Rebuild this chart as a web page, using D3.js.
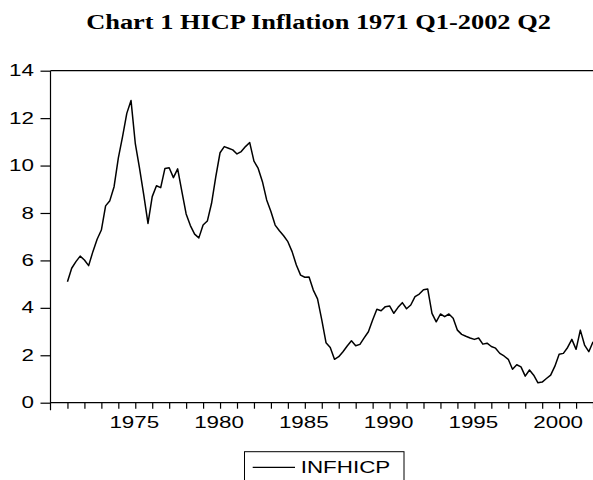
<!DOCTYPE html>
<html>
<head>
<meta charset="utf-8">
<script src="https://cdn.jsdelivr.net/npm/d3@7"></script>
<style>
  html, body { margin: 0; padding: 0; background: #fff; }
  svg { display: block; }
  .tick text { font-family: "Liberation Sans", Arial, sans-serif; font-size: 16px; fill: #000; }
</style>
</head>
<body>
<svg id="chart" width="593" height="480"></svg>
<script>
// quarterly HICP inflation, starting 1971 Q1
var startYear = 1971;
var infhicp = [
  5.10, 5.67, 5.95, 6.18, 6.02, 5.78, 6.37, 6.89, 7.28, 8.30,
  8.52, 9.11, 10.31, 11.22, 12.20, 12.74, 10.94, 9.89, 8.76, 7.56,
  8.69, 9.15, 9.07, 9.88, 9.91, 9.49, 9.86, 8.90, 7.96, 7.47,
  7.11, 6.95, 7.49, 7.66, 8.41, 9.53, 10.54, 10.80, 10.73, 10.66,
  10.49, 10.59, 10.80, 10.97, 10.19, 9.88, 9.32, 8.55, 8.06, 7.49,
  7.25, 7.04, 6.79, 6.37, 5.81, 5.38, 5.29, 5.30, 4.75, 4.38,
  3.49, 2.53, 2.33, 1.83, 1.94, 2.15, 2.39, 2.61, 2.40, 2.46,
  2.73, 2.99, 3.49, 3.94, 3.88, 4.05, 4.08, 3.77, 4.02, 4.22,
  3.96, 4.12, 4.47, 4.58, 4.76, 4.79, 3.77, 3.41, 3.74, 3.63,
  3.74, 3.56, 3.06, 2.88, 2.80, 2.73, 2.67, 2.73, 2.47, 2.51,
  2.37, 2.30, 2.08, 1.97, 1.83, 1.41, 1.60, 1.51, 1.12, 1.38,
  1.16, 0.84, 0.87, 1.02, 1.16, 1.54, 2.04, 2.08, 2.33, 2.67,
  2.25, 3.06, 2.43, 2.15, 2.57
];
var yTicks = [0, 2, 4, 6, 8, 10, 12, 14];
var yearTicks = d3.range(1971, 2004);        // one tick per year
var yearLabels = [1975, 1980, 1985, 1990, 1995, 2000];
var titleText = "Chart 1 HICP Inflation 1971 Q1-2002 Q2";
var seriesName = "INFHICP";

var svg = d3.select("#chart");
var stretch = 1.4; // the picture's text is stretched sideways

// plot box (right side runs off the picture)
var plotL = 50.5, plotT = 70.7, plotB = 402.7, plotR = 610;

var x = d3.scaleLinear().domain([1970, 2003]).range([plotL, plotR]);
var y = d3.scaleLinear().domain([0, 14]).range([plotB, plotT]);

// title
svg.append("text")
  .attr("transform", "translate(318.5,29.3) scale(1.32,1)")
  .attr("text-anchor", "middle")
  .style("font-family", "'Liberation Serif', 'Times New Roman', serif")
  .style("font-weight", "bold")
  .style("font-size", "20px")
  .text(titleText);

// top border
svg.append("line")
  .attr("x1", plotL).attr("x2", plotR)
  .attr("y1", plotT).attr("y2", plotT)
  .attr("stroke", "#000").attr("stroke-width", 1.2);

// left axis line (goes a bit below the x axis)
svg.append("line")
  .attr("x1", plotL).attr("x2", plotL)
  .attr("y1", plotT).attr("y2", plotB + 7.5)
  .attr("stroke", "#000").attr("stroke-width", 1.2);

var yAxis = d3.axisLeft(y).tickValues(yTicks).tickSize(10).tickFormat(d3.format("d"));
var gy = svg.append("g").attr("transform", "translate(" + plotL + ",0)").call(yAxis);
gy.select(".domain").remove();
gy.selectAll(".tick line").attr("stroke", "#000").attr("stroke-width", 1.2);
gy.selectAll(".tick text")
  .attr("x", -16.5 / stretch)
  .attr("transform", "scale(" + stretch + ",1)");

var xAxis = d3.axisBottom(x).tickValues(yearTicks).tickSize(6).tickPadding(8)
  .tickFormat(function(d){ return yearLabels.indexOf(d) >= 0 ? d : ""; });
var gx = svg.append("g").attr("transform", "translate(0," + plotB + ")").call(xAxis);
gx.select(".domain").attr("stroke", "#000").attr("stroke-width", 1.2)
  .attr("d", "M" + plotL + ",0H" + plotR);
gx.selectAll(".tick line").attr("stroke", "#000").attr("stroke-width", 1.2);
gx.selectAll(".tick text")
  .attr("x", -1.5 / stretch)
  .attr("transform", "scale(" + stretch + ",1)");

// the series
var line = d3.line()
  .x(function(d, i){ return x(startYear + i / 4); })
  .y(function(d){ return y(d); });

svg.append("path")
  .datum(infhicp)
  .attr("fill", "none")
  .attr("stroke", "#000")
  .attr("stroke-width", 1.5)
  .attr("stroke-linejoin", "round")
  .attr("d", line);

// legend
var lg = svg.append("g");
lg.append("rect")
  .attr("x", 244.5).attr("y", 451.7)
  .attr("width", 159.5).attr("height", 40)
  .attr("fill", "#fff").attr("stroke", "#000").attr("stroke-width", 1);
lg.append("line")
  .attr("x1", 252.7).attr("x2", 295)
  .attr("y1", 467.3).attr("y2", 467.3)
  .attr("stroke", "#000").attr("stroke-width", 1.3);
lg.append("text")
  .attr("transform", "translate(300.7,473.3) scale(" + stretch + ",1)")
  .style("font-family", "'Liberation Sans', Arial, sans-serif")
  .style("font-size", "16px")
  .text(seriesName);
</script>
</body>
</html>
